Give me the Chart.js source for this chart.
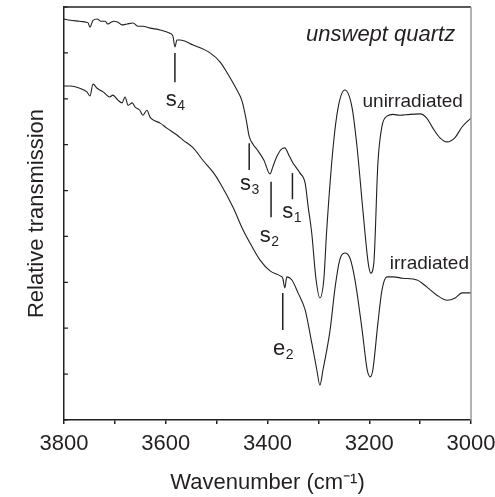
<!DOCTYPE html>
<html>
<head>
<meta charset="utf-8">
<script src="https://cdn.jsdelivr.net/npm/chart.js@4.4.1/dist/chart.umd.min.js"></script>
<style>
  html, body { margin: 0; padding: 0; background: #fff; }
</style>
</head>
<body>
<canvas id="chart" width="495" height="497"></canvas>
<script>
// IR transmission spectra, unswept quartz

// unirradiated spectrum (top curve)
const upperWavenumbers = [3800, 3788, 3769, 3757, 3753, 3749, 3743, 3735, 3727, 3719, 3714, 3710, 3702, 3694, 3686, 3676, 3664, 3655, 3645, 3631, 3611, 3592, 3586, 3582, 3578, 3572, 3546, 3513, 3493, 3480, 3460, 3450, 3442, 3436, 3428, 3421, 3407, 3395, 3390, 3383, 3373, 3366, 3358, 3350, 3336, 3326, 3320, 3313, 3305, 3297, 3289, 3284, 3271, 3261, 3248, 3234, 3224, 3212, 3202, 3197, 3191, 3183, 3175, 3165, 3153, 3140, 3120, 3100, 3087, 3075, 3061, 3047, 3031, 3018, 3000];
const upperValues = [8.74, 8.71, 8.69, 8.67, 8.66, 8.56, 8.71, 8.74, 8.69, 8.69, 8.63, 8.65, 8.69, 8.67, 8.61, 8.63, 8.65, 8.58, 8.58, 8.54, 8.50, 8.43, 8.37, 8.13, 8.28, 8.28, 8.17, 8.00, 7.80, 7.58, 7.19, 6.95, 6.55, 6.18, 6.00, 5.90, 5.66, 5.36, 5.50, 5.71, 5.90, 5.93, 5.77, 5.60, 5.38, 5.16, 4.64, 4.07, 3.10, 2.66, 3.10, 4.07, 5.95, 6.82, 7.19, 6.82, 5.95, 4.51, 3.42, 3.20, 3.42, 5.60, 6.40, 6.62, 6.66, 6.64, 6.66, 6.67, 6.58, 6.36, 6.15, 6.06, 6.16, 6.38, 6.58];

// irradiated spectrum (bottom curve)
const lowerWavenumbers = [3800, 3788, 3769, 3755, 3749, 3743, 3735, 3723, 3710, 3704, 3694, 3686, 3680, 3674, 3666, 3660, 3651, 3645, 3637, 3631, 3625, 3611, 3598, 3578, 3566, 3546, 3527, 3507, 3493, 3468, 3448, 3430, 3415, 3395, 3375, 3370, 3366, 3362, 3352, 3340, 3326, 3313, 3303, 3297, 3291, 3277, 3267, 3258, 3248, 3238, 3228, 3214, 3204, 3198, 3193, 3183, 3175, 3165, 3153, 3134, 3106, 3087, 3067, 3047, 3031, 3018, 3000];
const lowerValues = [7.28, 7.28, 7.23, 7.15, 7.06, 7.32, 7.23, 7.15, 7.04, 7.08, 6.97, 6.91, 7.04, 6.86, 6.91, 6.82, 6.75, 6.64, 6.75, 6.60, 6.54, 6.47, 6.36, 6.21, 6.10, 5.93, 5.66, 5.40, 5.16, 4.64, 4.14, 3.77, 3.49, 3.25, 3.14, 3.09, 2.88, 3.12, 3.05, 2.77, 2.40, 1.68, 1.09, 0.76, 1.09, 1.96, 2.90, 3.49, 3.64, 3.53, 3.05, 1.96, 1.09, 0.94, 1.09, 2.11, 2.83, 3.12, 3.12, 3.09, 3.05, 2.90, 2.72, 2.61, 2.66, 2.77, 2.77];

// band markers: s4, s3, s2, s1, e2
const markLetters = ['s', 's', 's', 's', 'e'];
const markSubscripts = ['4', '3', '2', '1', '2'];
const markWavenumbers = [3582, 3436, 3393, 3351, 3370];
const markTops = [8.00, 6.03, 5.19, 5.38, 2.77];
const markBottoms = [7.36, 5.45, 4.42, 4.81, 1.96];
const markLabelWavenumbers = [3600, 3454, 3415, 3371, 3389];
const markLabelValues = [6.84, 5.01, 3.88, 4.40, 1.42];

// curve / panel captions
const captionTexts = ['unswept quartz', 'unirradiated', 'irradiated'];
const captionWavenumbers = [3031, 3016, 3004];
const captionValues = [8.26, 6.82, 3.29];

const xTickValues = [3800, 3700, 3600, 3500, 3400, 3300, 3200, 3100, 3000];

const INK = '#231f20';
Chart.defaults.font.family = '"Liberation Sans", Arial, sans-serif';
Chart.defaults.color = INK;

function toPoints(xs, ys) {
  return xs.map((x, i) => ({ x, y: ys[i] }));
}

const datasets = [
  { data: toPoints(upperWavenumbers, upperValues), borderWidth: 1.1 },
  { data: toPoints(lowerWavenumbers, lowerValues), borderWidth: 1.1 },
];
markWavenumbers.forEach((w, i) => {
  datasets.push({
    data: [{ x: w, y: markTops[i] }, { x: w, y: markBottoms[i] }],
    borderWidth: 1.5,
  });
});
datasets.forEach(d => {
  d.borderColor = INK;
  d.pointRadius = 0;
  d.fill = false;
  d.cubicInterpolationMode = 'monotone';
});

const annotate = {
  id: 'annotate',
  afterDatasetsDraw(chart) {
    const { ctx, chartArea, scales: { x, y } } = chart;
    ctx.save();

    // top and right frame
    ctx.lineWidth = 1.5;
    ctx.strokeStyle = INK;
    ctx.beginPath();
    ctx.moveTo(chartArea.left, chartArea.top);
    ctx.lineTo(chartArea.right, chartArea.top);
    ctx.stroke();
    ctx.strokeStyle = '#9a9a9a';
    ctx.beginPath();
    ctx.moveTo(chartArea.right, chartArea.top);
    ctx.lineTo(chartArea.right, chartArea.bottom);
    ctx.stroke();

    // inward y ticks
    ctx.strokeStyle = INK;
    ctx.lineWidth = 1.2;
    ctx.beginPath();
    y.ticks.forEach(t => {
      const py = y.getPixelForValue(t.value);
      ctx.moveTo(chartArea.left, py);
      ctx.lineTo(chartArea.left + 4, py);
    });
    ctx.stroke();

    ctx.fillStyle = INK;
    ctx.textBaseline = 'alphabetic';

    // marker labels with subscripts
    markLetters.forEach((letter, i) => {
      const px = x.getPixelForValue(markLabelWavenumbers[i]);
      const py = y.getPixelForValue(markLabelValues[i]);
      ctx.textAlign = 'left';
      ctx.font = '22px "Liberation Sans", Arial, sans-serif';
      ctx.fillText(letter, px, py);
      const w = ctx.measureText(letter).width;
      ctx.font = '14px "Liberation Sans", Arial, sans-serif';
      ctx.fillText(markSubscripts[i], px + w + 0.5, py + 4);
    });

    // captions
    captionTexts.forEach((txt, i) => {
      const px = x.getPixelForValue(captionWavenumbers[i]);
      const py = y.getPixelForValue(captionValues[i]);
      ctx.textAlign = 'right';
      ctx.font = (i === 0 ? 'italic 22px' : '19px') + ' "Liberation Sans", Arial, sans-serif';
      ctx.fillText(txt, px, py);
    });

    ctx.restore();
  }
};

new Chart(document.getElementById('chart'), {
  type: 'line',
  data: { datasets },
  plugins: [annotate],
  options: {
    responsive: false,
    animation: false,
    events: [],
    layout: { padding: { top: 7, right: 0, left: 0, bottom: 0 } },
    plugins: { legend: { display: false }, tooltip: { enabled: false } },
    scales: {
      x: {
        type: 'linear',
        min: 3000,
        max: 3800,
        reverse: true,
        afterFit: s => { s.height = 77; s.paddingRight = 24; },
        afterBuildTicks: s => { s.ticks = xTickValues.map(v => ({ value: v })); },
        ticks: {
          autoSkip: false,
          maxRotation: 0,
          padding: 7,
          font: { size: 22 },
          color: INK,
          callback: v => (v % 200 === 0 ? String(v) : ''),
        },
        grid: { drawOnChartArea: false, drawTicks: true, tickLength: 4, color: INK, lineWidth: 1.5 },
        border: { display: true, color: INK, width: 1.5 },
        title: {
          display: true,
          text: 'Wavenumber (cm\u207B\u00B9)',
          font: { size: 22 },
          color: INK,
          padding: { top: 0, bottom: 1 },
        },
      },
      y: {
        type: 'linear',
        min: 0,
        max: 9,
        afterFit: s => { s.width = 64; },
        ticks: { display: false, stepSize: 1 },
        grid: { display: false },
        border: { display: true, color: INK, width: 1.5 },
        title: {
          display: true,
          text: 'Relative transmission',
          font: { size: 22 },
          color: INK,
          padding: { top: 24, bottom: 0 },
        },
      },
    },
  },
});
</script>
</body>
</html>
